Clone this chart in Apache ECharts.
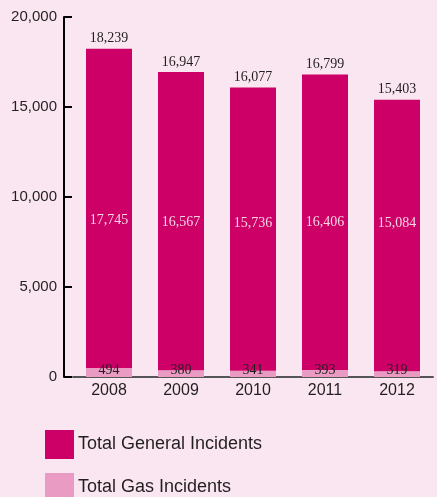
<!DOCTYPE html>
<html>
<head>
<meta charset="utf-8">
<script src="https://cdn.jsdelivr.net/npm/echarts@6/dist/echarts.min.js"></script>
<style>
html,body{margin:0;padding:0;background:#FAE6F0;}
#c{width:437px;height:497px;}
</style>
</head>
<body>
<div id="c"></div>
<script>
var years = ['2008', '2009', '2010', '2011', '2012'];
var generalIncidents = [17745, 16567, 15736, 16406, 15084];
var gasIncidents = [494, 380, 341, 393, 319];
var totalIncidents = [18239, 16947, 16077, 16799, 15403];
var yTicks = [0, 5000, 10000, 15000, 20000];

function fmt(v) { return String(v).replace(/\B(?=(\d{3})+(?!\d))/g, ','); }

var chart = echarts.init(document.getElementById('c'));
var sansAxis = '"Liberation Sans", Arial, sans-serif';
var serif = '"Liberation Serif", "Times New Roman", serif';

chart.setOption({
  backgroundColor: '#FAE6F0',
  animation: false,
  grid: { left: 73, right: 4, top: 17, bottom: 120 },
  legend: {
    orient: 'vertical',
    left: 45,
    top: 430,
    height: 150,
    padding: 0,
    itemWidth: 29,
    itemHeight: 29,
    itemGap: 14,
    icon: 'rect',
    data: ['Total General Incidents', 'Total Gas Incidents'],
    textStyle: { fontFamily: sansAxis, fontSize: 18, color: '#231F20', padding: [0, 0, 0, -1] }
  },
  xAxis: {
    type: 'category',
    data: years,
    axisLine: { lineStyle: { color: '#555555', width: 2 } },
    axisTick: { show: false },
    axisLabel: { fontFamily: sansAxis, fontSize: 16, color: '#231F20', margin: 6 }
  },
  yAxis: {
    type: 'value',
    min: yTicks[0],
    max: yTicks[yTicks.length - 1],
    interval: 5000,
    offset: 9,
    axisLine: { show: true, lineStyle: { color: '#000000', width: 2 } },
    axisTick: { show: true, inside: true, length: 8, lineStyle: { color: '#000000', width: 2 } },
    splitLine: { show: false },
    axisLabel: {
      fontFamily: sansAxis, fontSize: 15, color: '#231F20', margin: 7,
      formatter: function (v) { return fmt(v); }
    }
  },
  series: [
    {
      name: 'Total Gas Incidents',
      type: 'bar',
      stack: 's',
      barWidth: 46,
      data: gasIncidents,
      itemStyle: { color: '#E99BC3' },
      label: {
        show: true, position: 'insideBottom', distance: 0,
        fontFamily: serif, fontSize: 14, color: '#231F20',
        formatter: function (p) { return fmt(p.value); }
      }
    },
    {
      name: 'Total General Incidents',
      type: 'bar',
      stack: 's',
      barWidth: 46,
      data: generalIncidents,
      itemStyle: { color: '#CC0066' },
      label: {
        show: true, position: 'insideBottom', distance: 141,
        fontFamily: serif, fontSize: 14, color: '#F6D3E3',
        formatter: function (p) { return fmt(p.value); }
      }
    },
    {
      name: 'Total',
      type: 'bar',
      stack: 's',
      barWidth: 46,
      data: years.map(function () { return 0; }),
      itemStyle: { color: 'rgba(0,0,0,0)' },
      label: {
        show: true, position: 'top', distance: 3,
        fontFamily: serif, fontSize: 14, color: '#231F20',
        formatter: function (p) { return fmt(totalIncidents[p.dataIndex]); }
      }
    }
  ]
});
</script>
</body>
</html>
